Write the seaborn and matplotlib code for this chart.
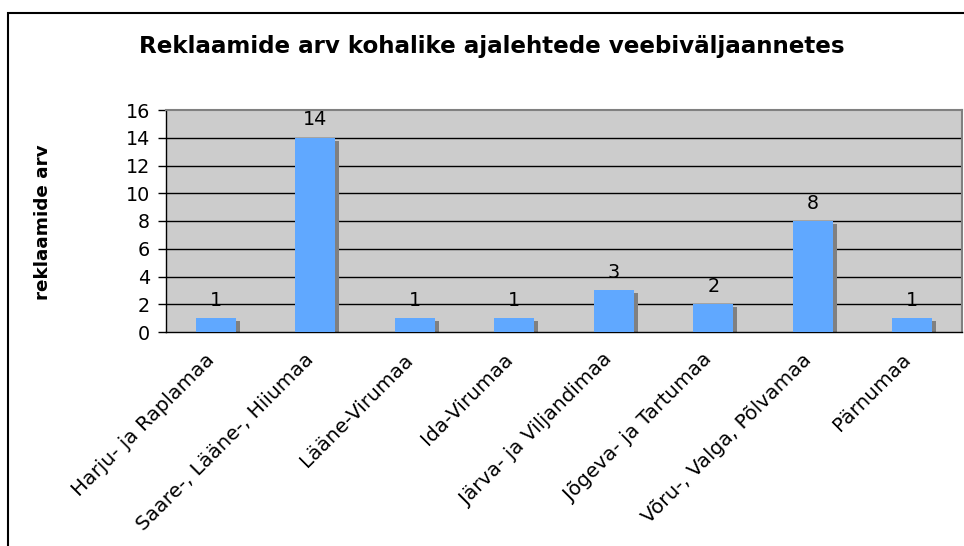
import matplotlib
matplotlib.use("Agg")
import matplotlib.pyplot as plt
import matplotlib.transforms as mtransforms
from matplotlib.patches import Rectangle
import seaborn as sns
import numpy as np

categories = ["Harju- ja Raplamaa", "Saare-, Lääne-, Hiiumaa", "Lääne-Virumaa",
              "Ida-Virumaa", "Järva- ja Viljandimaa", "Jõgeva- ja Tartumaa",
              "Võru-, Valga, Põlvamaa", "Pärnumaa"]
values = [1, 14, 1, 1, 3, 2, 8, 1]
yticks = [0, 2, 4, 6, 8, 10, 12, 14, 16]
title = "Reklaamide arv kohalike ajalehtede veebiväljaannetes"
ylabel = "reklaamide arv"

sns.set_theme(style="white")
plt.rcParams["font.family"] = ["DejaVu Sans"]

W, H = 964, 546
fig = plt.figure(figsize=(W / 100, H / 100), dpi=100)
ax = fig.add_axes([166 / W, 1 - 332 / H, (962 - 166) / W, (332 - 110) / H])
ax.set_facecolor("#CCCCCC")

# shadow bars
sns.barplot(x=categories, y=values, color="#808080", width=0.4, ax=ax,
            saturation=1, zorder=2)
n = len(categories)
shadow_tr = mtransforms.offset_copy(ax.transData, fig=fig, x=4, y=-3, units="dots")
for p in ax.patches[:n]:
    p.set_transform(shadow_tr)
    p.set_linewidth(0)
# main bars
sns.barplot(x=categories, y=values, color="#60A8FF", width=0.4, ax=ax,
            saturation=1, zorder=3)
for p in ax.patches[n:]:
    p.set_linewidth(0)

fs = 13.8
ax.set_ylim(0, 16)
ax.set_xlim(-0.5, n - 0.5)
ax.set_yticks(yticks)
ax.set_yticklabels([str(t) for t in yticks], fontsize=fs, color="black")
for t in yticks[1:-1]:
    ax.axhline(t, color="black", lw=1, zorder=1)

ax.set_xticks(range(n))
ax.set_xticklabels(categories, rotation=45, ha="right", rotation_mode="anchor",
                   fontsize=14.4, color="black")
ax.set_xticks(np.arange(-0.5, n, 1.0), minor=True)
ax.tick_params(axis="x", which="major", length=0, pad=13)
ax.tick_params(axis="x", which="minor", length=6, width=1, color="black", direction="out")
ax.tick_params(axis="y", length=5.5, width=1, color="black", direction="out", pad=6, left=True)
ax.set_xlabel("")
ax.set_ylabel("")

shift = mtransforms.ScaledTranslation(-11 / 100, 0, fig.dpi_scale_trans)
for lbl in ax.get_xticklabels():
    lbl.set_transform(lbl.get_transform() + shift)

for i, v in enumerate(values):
    ax.annotate(str(v), (i, v), xytext=(0, 6), textcoords="offset points",
                ha="center", va="bottom", fontsize=fs, color="black")

for s in ["left", "bottom"]:
    ax.spines[s].set_color("black")
    ax.spines[s].set_linewidth(1)
for s in ["top", "right"]:
    ax.spines[s].set_color("#808080")
    ax.spines[s].set_linewidth(1.5)

fig.text(492 / W, 1 - 47 / H, title, ha="center", va="center",
         fontsize=16.6, fontweight="bold", color="black")
fig.text(43 / W, 1 - 222 / H, ylabel, ha="center", va="center", rotation=90,
         fontsize=13.2, fontweight="bold", color="black")

fig.patches.append(Rectangle((8 / W, -0.1), 1.2, 1 - 13 / H + 0.1,
                             transform=fig.transFigure, fill=False,
                             edgecolor="black", lw=1.5))

fig.savefig("out.png", dpi=100)
